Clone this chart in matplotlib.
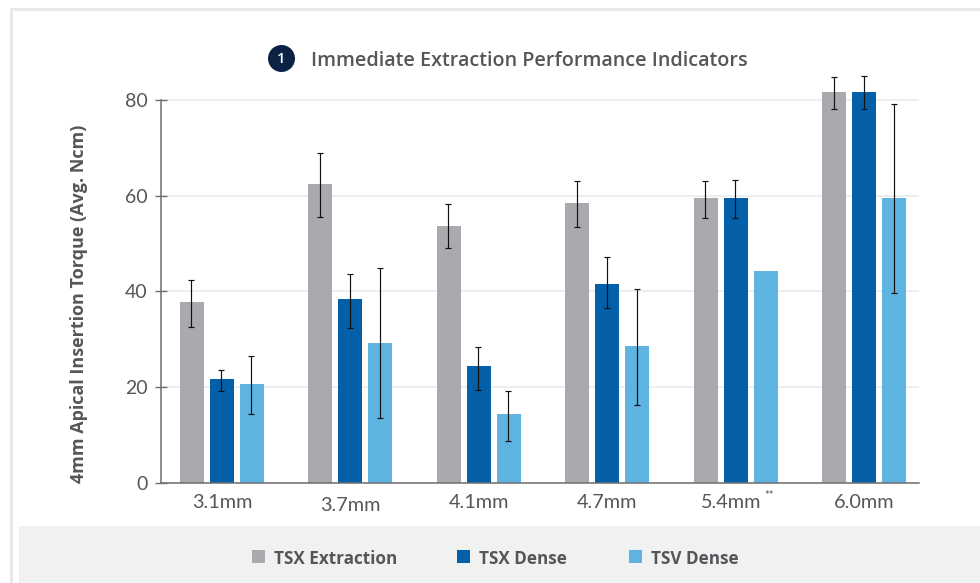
import numpy as np
import matplotlib
matplotlib.use("Agg")
import matplotlib.pyplot as plt
from matplotlib.patches import Circle, Rectangle
from matplotlib.transforms import ScaledTranslation

plt.rcParams['font.family'] = ['Lato', 'DejaVu Sans']

# data
categories = ['3.1mm', '3.7mm', '4.1mm', '4.7mm', '5.4mm', '6.0mm']
series_names = ['TSX Extraction', 'TSX Dense', 'TSV Dense']

tsx_extraction = [37.8, 62.5, 53.7, 58.4, 59.5, 81.7]
tsx_extraction_low = [32.6, 55.5, 49.0, 53.5, 55.3, 78.2]
tsx_extraction_high = [42.4, 69.0, 58.2, 63.1, 63.1, 84.9]

tsx_dense = [21.6, 38.3, 24.3, 41.5, 59.5, 81.7]
tsx_dense_low = [19.2, 32.3, 19.3, 36.5, 55.4, 78.2]
tsx_dense_high = [23.6, 43.6, 28.3, 47.2, 63.2, 85.0]

tsv_dense = [20.6, 29.2, 14.3, 28.5, 44.3, 59.5]
tsv_dense_low = [14.4, 13.5, 8.7, 16.2, np.nan, 39.7]
tsv_dense_high = [26.4, 44.8, 19.1, 40.4, np.nan, 79.2]

colors = ['#a9a9ae', '#0360a8', '#5fb3e0']
text_color = '#55565a'
bold_font = ['Open Sans', 'DejaVu Sans']

W, H = 980, 583
fig = plt.figure(figsize=(W / 100, H / 100), dpi=100, facecolor='white')

# background furniture in pixel coordinates
bg = fig.add_axes([0, 0, 1, 1], zorder=0)
bg.set_xlim(0, W)
bg.set_ylim(H, 0)
bg.axis('off')
bg.add_patch(Rectangle((10, 8), W - 10, 3, color='#e6e9ec', lw=0))
bg.add_patch(Rectangle((10, 8), 3, H - 8, color='#e6e9ec', lw=0))
bg.add_patch(Rectangle((19, 526), W - 19, H - 526, color='#f0f2f2', lw=0))

# title with numbered badge
bg.add_patch(Circle((281.5, 58.5), 13.5, color='#0b2245', lw=0))
bg.text(281.5, 59, '1', color='white', fontsize=10.5, fontweight='semibold',
        family=bold_font, ha='center', va='center')
bg.text(311, 61, 'Immediate Extraction Performance Indicators', color=text_color,
        fontsize=14.25, fontweight='semibold', family=bold_font, ha='left', va='center')

# legend
legend_x = [252, 457, 629]
for name, color, lx in zip(series_names, colors, legend_x):
    bg.add_patch(Rectangle((lx, 550), 13, 13, color=color, lw=0))
    bg.text(lx + 22, 558.5, name, color=text_color, fontsize=12.3,
            fontweight='bold', family=bold_font, ha='left', va='center')

# main plot, room above 80 for the tallest error bars
y_top = 86
ax_top = 482.7 - y_top * (482.7 - 100) / 80
ax = fig.add_axes([160.5 / W, 1 - 482.7 / H, (919 - 160.5) / W, (482.7 - ax_top) / H], zorder=1)
ax.patch.set_alpha(0)

x = np.arange(len(categories))
bar_width = 0.187
offset = 0.2336
values = [tsx_extraction, tsx_dense, tsv_dense]
lows = [tsx_extraction_low, tsx_dense_low, tsv_dense_low]
highs = [tsx_extraction_high, tsx_dense_high, tsv_dense_high]

for i in range(3):
    pos = x + (i - 1) * offset
    val = np.array(values[i])
    ax.bar(pos, val, width=bar_width, color=colors[i], zorder=2)
    yerr = [val - np.array(lows[i]), np.array(highs[i]) - val]
    ax.errorbar(pos - 0.004, val, yerr=yerr, fmt='none', ecolor='#111111',
                elinewidth=0.85, capsize=1.9, capthick=0.85, zorder=3)

ax.set_xlim(-0.479, 5.428)
ax.set_ylim(0, y_top)
ax.set_yticks([0, 20, 40, 60, 80])
ax.set_xticks(x)
ax.set_xticklabels(categories)
ax.yaxis.grid(True, color='#e8e9ec', lw=1.1, zorder=0)
ax.set_axisbelow(True)

for side in ['top', 'right']:
    ax.spines[side].set_visible(False)
for side in ['left', 'bottom']:
    ax.spines[side].set_color('#6d6e70')
    ax.spines[side].set_linewidth(1.1)
    ax.spines[side].set_zorder(4)
ax.spines['left'].set_bounds(0, 80)

ax.tick_params(axis='y', direction='inout', length=8.3, width=1.0, color='#6d6e70',
               labelsize=14, labelcolor=text_color, pad=5)
ax.tick_params(axis='x', length=0, labelsize=14.3, labelcolor=text_color, pad=8)

# 3.7mm sits slightly lower in the original
ax.xaxis.get_major_ticks()[1].set_pad(10)

# 5.4mm is shifted a little left to leave room for the stars
lbl = ax.get_xticklabels()[4]
lbl.set_transform(lbl.get_transform() + ScaledTranslation(-3 / 72, 0, fig.dpi_scale_trans))
bg.text(764, 496, '**', color=text_color, fontsize=8, ha='left', va='center', zorder=5)

ax.set_ylabel('4mm Apical Insertion Torque (Avg. Ncm)', color=text_color, fontsize=13,
              fontweight='bold', family=bold_font, labelpad=0)
ax.yaxis.set_label_coords((88 - 160.5) / (919 - 160.5), (482.7 - 303.5) / (482.7 - ax_top))

fig.savefig('out.png', dpi=100)
